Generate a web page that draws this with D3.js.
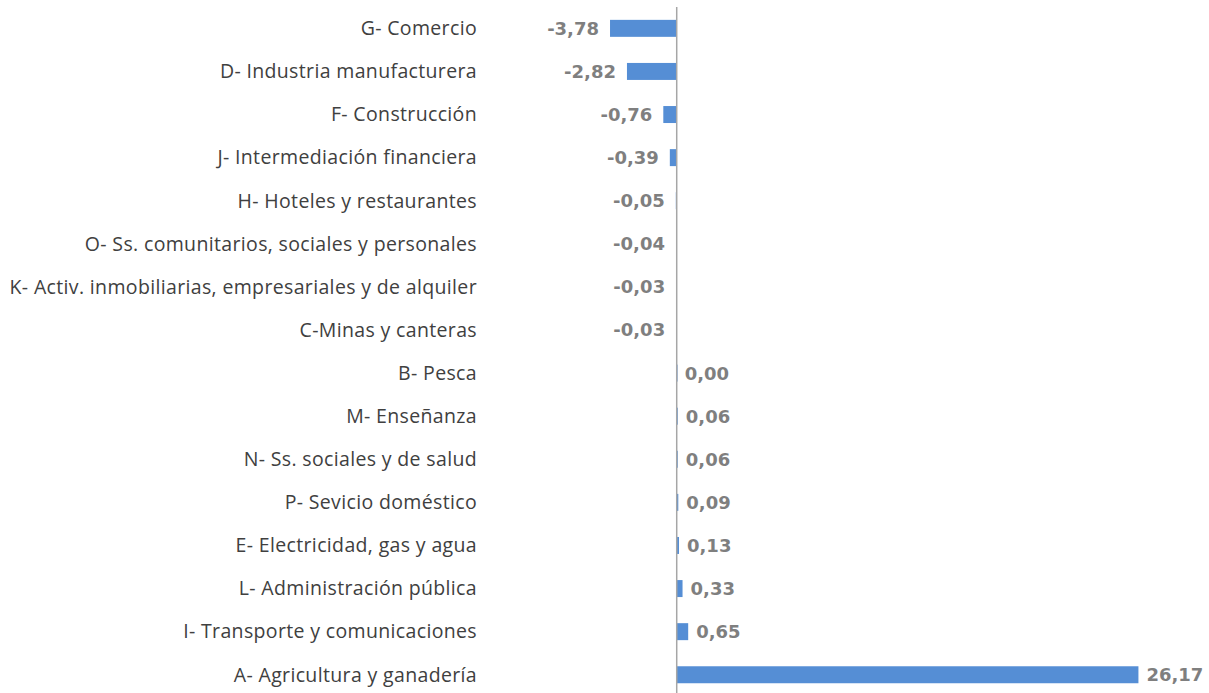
<html>
  <head>
    <script src="https://cdnjs.cloudflare.com/ajax/libs/d3/7.8.5/d3.min.js" charset="utf-8"></script>
    <style type="text/css">
    body { margin: 0; background: #fff; }
    </style>
  </head>
  <body>
    <div id="chart"></div>
  </body>

  <script type="text/javascript">
  // data, top to bottom
  var sectores = [
    "G- Comercio",
    "D- Industria manufacturera",
    "F- Construcción",
    "J- Intermediación financiera",
    "H- Hoteles y restaurantes",
    "O- Ss. comunitarios, sociales y personales",
    "K- Activ. inmobiliarias, empresariales y de alquiler",
    "C-Minas y canteras",
    "B- Pesca",
    "M- Enseñanza",
    "N- Ss. sociales y de salud",
    "P- Sevicio doméstico",
    "E- Electricidad, gas y agua",
    "L- Administración pública",
    "I- Transporte y comunicaciones",
    "A- Agricultura y ganadería"
  ]
  var valores = [-3.78, -2.82, -0.76, -0.39, -0.05, -0.04, -0.03, -0.03,
                 0.00, 0.06, 0.06, 0.09, 0.13, 0.33, 0.65, 26.17]

  var width = 1209,
    height = 693;

  var rows = sectores.map(function(s, i){ return {name: s, value: valores[i]} })

  var fmt = d3.formatLocale({decimal: ",", thousands: ".", grouping: [3], currency: ["", ""], minus: "-"}).format(".2f")

  var svg = d3.select("#chart")
    .append("svg")
    .attr("width", width)
    .attr("height", height)

  var x = d3.scaleLinear().domain([-5, 30]).range([588.5, 1206])
  var y = d3.scaleBand().domain(sectores).range([6.8, 696.3]).paddingInner(0.606).paddingOuter(0.303)

  // bars
  svg.selectAll("rect.bar").data(rows).enter().append("rect")
    .attr("class", "bar")
    .attr("x", function(d){ return Math.min(x(0), x(d.value)) })
    .attr("y", function(d){ return y(d.name) })
    .attr("width", function(d){ return Math.max(Math.abs(x(d.value) - x(0)), 0.8) })
    .attr("height", y.bandwidth())
    .style("fill", "#558ed5")

  // vertical axis line at zero
  svg.append("line")
    .attr("x1", x(0)).attr("x2", x(0))
    .attr("y1", 7).attr("y2", height)
    .style("stroke", "#a6a6a6")
    .style("stroke-width", 1.5)

  // category labels
  svg.selectAll("text.cat").data(rows).enter().append("text")
    .attr("class", "cat")
    .attr("x", 477)
    .attr("y", function(d){ return y(d.name) + y.bandwidth() / 2 })
    .attr("dy", "0.35em")
    .attr("text-anchor", "end")
    .style("font-family", "'Open Sans', sans-serif")
    .style("font-size", "19.5px")
    .style("letter-spacing", "0.35px")
    .style("fill", "#404040")
    .text(function(d){ return d.name })

  // value labels
  svg.selectAll("text.val").data(rows).enter().append("text")
    .attr("class", "val")
    .attr("x", function(d){ return d.value < 0 ? x(d.value) - 11 : x(d.value) + 8 })
    .attr("y", function(d){ return y(d.name) + y.bandwidth() / 2 })
    .attr("dy", "0.36em")
    .attr("text-anchor", function(d){ return d.value < 0 ? "end" : "start" })
    .style("font-family", "'DejaVu Sans', sans-serif")
    .style("font-weight", "bold")
    .style("font-size", "18px")
    .style("fill", "#7f7f7f")
    .text(function(d){ return fmt(d.value) })
  </script>
</html>
